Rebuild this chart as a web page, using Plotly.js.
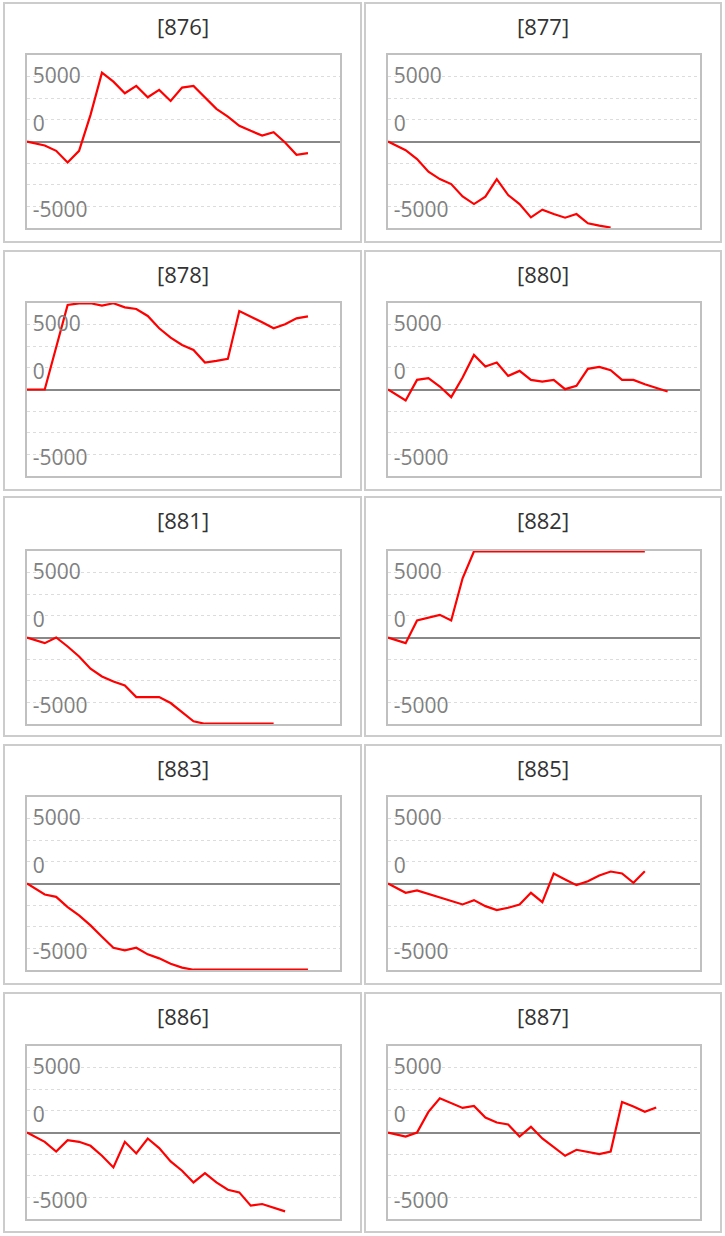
<!DOCTYPE html>
<html>
<head>
<meta charset="utf-8">
<script src="https://cdn.plot.ly/plotly-3.0.1.min.js"></script>
<style>
html,body{margin:0;padding:0;background:#fff;}
#chart{width:725px;height:1236px;}
</style>
</head>
<body>
<div id="chart"></div>
<script>
// ---- data ----
const panelTitles = ["[876]", "[877]", "[878]", "[880]", "[881]", "[882]", "[883]", "[885]", "[886]", "[887]"];
const days = [-0.55, 1, 2, 3, 4, 5, 6, 7, 8, 9, 10, 11, 12, 13, 14, 15, 16, 17, 18, 19, 20, 21, 22, 23, 24];
const s876 = [0, -308, -718, -1615, -718, 2051, 5308, 4615, 3718, 4282, 3410, 3974, 3128, 4154, 4282, 3385, 2513, 1923, 1205, 820, 462, 718, -77, -1026, -897];
const s877 = [0, -667, -1359, -2333, -2897, -3282, -4231, -4821, -4256, -2897, -4128, -4821, -5846, -5256, -5590, -5872, -5590, -6308, -6487, -6630];
const s878 = [0, 0, 3256, 6513, 6645, 6645, 6460, 6645, 6333, 6205, 5667, 4718, 4000, 3436, 3051, 2077, 2205, 2359, 6051, 5641, 5179, 4718, 5026, 5487, 5641];
const s880 = [0, -846, 744, 872, 231, -590, 923, 2667, 1769, 2077, 1051, 1436, 744, 615, 744, 26, 282, 1590, 1744, 1487, 744, 744, 410, 103, -154];
const s881 = [0, -436, 0, -692, -1462, -2410, -3000, -3385, -3692, -4590, -4590, -4590, -5051, -5769, -6462, -6645, -6645, -6645, -6645, -6645, -6645, -6645];
const s882 = [0, -436, 1308, 1538, 1744, 1308, 4564, 6645, 6645, 6645, 6645, 6645, 6645, 6645, 6645, 6645, 6645, 6645, 6645, 6645, 6645, 6645, 6645];
const s883 = [0, -846, -1026, -1821, -2462, -3231, -4103, -4949, -5154, -4949, -5462, -5769, -6179, -6487, -6645, -6645, -6645, -6645, -6645, -6645, -6645, -6645, -6645, -6645, -6645];
const s885 = [0, -718, -538, -795, -1051, -1359, -1615, -1282, -1744, -2051, -1872, -1615, -718, -1436, 769, 308, -128, 179, 615, 923, 769, 51, 949];
const s886 = [0, -718, -1462, -590, -718, -1026, -1795, -2692, -718, -1615, -462, -1205, -2231, -2949, -3846, -3128, -3846, -4410, -4615, -5641, -5513, -5769, -6077];
const s887 = [0, -308, 0, 1590, 2641, 2256, 1897, 2051, 1154, 769, 615, -308, 436, -462, -1103, -1795, -1333, -1487, -1667, -1462, 2359, 2000, 1590, 1923];
// tick label anchor positions as they appear in the picture
const tickValues = [5100, 1400, -5250];
const tickLabels = ["5000", "0", "-5000"];
const gridStep = 1666.67;

const allSeries = [s876, s877, s878, s880, s881, s882, s883, s885, s886, s887];

// ---- layout geometry (pixels) ----
const W = 725, H = 1236;
const plotX = [[27, 340], [388, 699.5]];
const plotTop = [55, 303, 551, 797, 1046];
const plotH = 173;
const boxX = [[4, 361], [365, 721]];
const boxTop = [3, 251, 497, 745, 993];
const boxH = 239;

const FONT = "'Open Sans', 'Noto Sans', sans-serif";
const traces = [];
const layout = {
  width: W, height: H,
  margin: {l: 0, r: 0, t: 0, b: 0},
  paper_bgcolor: "#ffffff",
  plot_bgcolor: "#ffffff",
  showlegend: false,
  shapes: [],
  annotations: []
};

for (let i = 0; i < allSeries.length; i++) {
  const row = Math.floor(i / 2), col = i % 2;
  const n = i + 1;
  const xs = days.slice(0, allSeries[i].length);
  traces.push({
    type: "scatter", mode: "lines",
    x: xs, y: allSeries[i],
    xaxis: "x" + n, yaxis: "y" + n,
    line: {color: "#ff0000", width: 2.2},
    hoverinfo: "skip"
  });
  const xd = [plotX[col][0] / W, plotX[col][1] / W];
  const yd = [1 - (plotTop[row] + plotH) / H, 1 - plotTop[row] / H];
  layout["xaxis" + n] = {
    domain: xd, anchor: "y" + n,
    range: [-0.55, 26.8],
    showgrid: false, zeroline: false, showticklabels: false, ticks: "",
    showline: true, mirror: true, linecolor: "#c0c0c0", linewidth: 2,
    fixedrange: true
  };
  layout["yaxis" + n] = {
    domain: yd, anchor: "x" + n,
    range: [-6667, 6667],
    tickmode: "array", tickvals: tickValues, ticktext: tickLabels,
    ticklabelposition: "inside", ticklabelstandoff: 7, ticks: "",
    tickfont: {family: FONT, size: 21, color: "#808080"},
    showgrid: false,
    minor: {tick0: 0, dtick: gridStep, showgrid: true, gridcolor: "#dcdcdc", griddash: "dot", gridwidth: 1, ticks: ""},
    zeroline: true, zerolinecolor: "#888888", zerolinewidth: 2,
    showline: true, mirror: true, linecolor: "#c0c0c0", linewidth: 2,
    fixedrange: true
  };
  layout.shapes.push({
    type: "rect", xref: "paper", yref: "paper",
    x0: boxX[col][0] / W, x1: boxX[col][1] / W,
    y0: 1 - (boxTop[row] + boxH) / H, y1: 1 - boxTop[row] / H,
    line: {color: "#cccccc", width: 2}, fillcolor: "rgba(0,0,0,0)"
  });
  layout.annotations.push({
    text: panelTitles[i], xref: "paper", yref: "paper",
    x: (boxX[col][0] + boxX[col][1]) / 2 / W,
    y: 1 - (boxTop[row] + 23) / H,
    xanchor: "center", yanchor: "middle", showarrow: false,
    font: {family: FONT, size: 22, color: "#333333"}
  });
}

Plotly.newPlot("chart", traces, layout, {staticPlot: true, displayModeBar: false});
</script>
</body>
</html>
